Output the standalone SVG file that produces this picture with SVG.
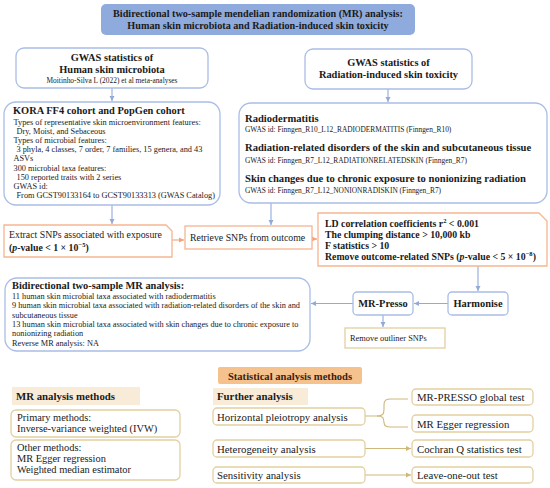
<svg xmlns="http://www.w3.org/2000/svg" width="550" height="488" viewBox="0 0 550 488">
<style>
text{font-family:"Liberation Serif","DejaVu Serif",serif;fill:#1a1a1a}
.b{font-weight:bold}
.blue{fill:#fff;stroke:#a9bde6;stroke-width:1.3}
.org{fill:#fff;stroke:#f5b690;stroke-width:1.3}
.tan{fill:#fff;stroke:#e3d0a0;stroke-width:1.3}
.cb{stroke:#93a9da;stroke-width:1.1;fill:none}
.co{stroke:#f2a27c;stroke-width:1.1;fill:none}
.ct{stroke:#cdb77c;stroke-width:1.1;fill:none}
.sg{font-size:7.4px}
.sk{font-size:8.3px}
.sm{font-size:8.3px}
.sh{font-size:10.4px}
.sl{font-size:9.8px}
.sb{font-size:10.6px}
</style>
<defs>
<marker id="ab" markerWidth="6" markerHeight="6" refX="5" refY="3" orient="auto" markerUnits="userSpaceOnUse"><path d="M0,0.5 L5,3 L0,5.5 Z" fill="#93a9da"/></marker>
<marker id="ao" markerWidth="6" markerHeight="6" refX="5" refY="3" orient="auto" markerUnits="userSpaceOnUse"><path d="M0,0.5 L5,3 L0,5.5 Z" fill="#f2a27c"/></marker>
<marker id="at" markerWidth="6" markerHeight="6" refX="5" refY="3" orient="auto" markerUnits="userSpaceOnUse"><path d="M0,0.5 L5,3 L0,5.5 Z" fill="#cdb77c"/></marker>
</defs>
<rect width="550" height="488" fill="#fff"/>

<g id="connectors">
<line class="cb" x1="112" y1="88" x2="112" y2="101" marker-end="url(#ab)"/>
<line class="cb" x1="388" y1="89" x2="388" y2="102" marker-end="url(#ab)"/>
<line class="cb" x1="112" y1="205" x2="112" y2="224" marker-end="url(#ab)"/>
<line class="cb" x1="271" y1="203" x2="271" y2="225" marker-end="url(#ab)"/>
<line class="co" x1="172" y1="240" x2="184" y2="240" marker-end="url(#ao)"/>
<line class="co" x1="312" y1="239" x2="317" y2="239" marker-end="url(#ao)"/>
<line class="cb" x1="478" y1="266" x2="478" y2="291" marker-end="url(#ab)"/>
<line class="cb" x1="448" y1="303.5" x2="414" y2="303.5" marker-end="url(#ab)"/>
<line class="cb" x1="353" y1="303.5" x2="311" y2="303.5" marker-end="url(#ab)"/>
<line class="cb" x1="383" y1="315" x2="383" y2="327" marker-end="url(#ab)"/>
<path class="ct" d="M365,416 H377 C383,416 384,414 384,409 V405 C384,400 386,399 391,399 H408"/>
<path class="ct" d="M377,416 C383,416 384,418 384,423 V422 C384,426 386,427 391,427 H408"/>
<line class="ct" x1="365" y1="448.5" x2="411" y2="448.5" marker-end="url(#at)"/>
<line class="ct" x1="365" y1="475" x2="411" y2="475" marker-end="url(#at)"/>
</g>

<g id="title">
<rect x="101" y="4" width="314" height="31" rx="5" fill="#8faadc"/>
<text class="b" font-size="10.2" x="258" y="17" text-anchor="middle">Bidirectional two-sample mendelian randomization (MR) analysis:</text>
<text class="b" font-size="10.2" x="258" y="29" text-anchor="middle">Human skin microbiota and Radiation-induced skin toxicity</text>
</g>

<g id="gwas-left">
<rect class="blue" x="16" y="48" width="192" height="40" rx="8"/>
<text class="b sh" x="112" y="61" text-anchor="middle">GWAS statistics of</text>
<text class="b sh" x="112" y="73" text-anchor="middle">Human skin microbiota</text>
<text class="sg" x="112" y="83" text-anchor="middle">Moitinho-Silva L (2022) et al meta-analyses</text>
</g>

<g id="kora">
<rect class="blue" x="4" y="102" width="216" height="103" rx="12"/>
<text class="b sh" x="13" y="114">KORA FF4 cohort and PopGen cohort</text>
<text class="sk" x="13.5" y="124.5">Types of representative skin microenvironment features:</text>
<text class="sk" x="16.5" y="133.7">Dry, Moist, and Sebaceous</text>
<text class="sk" x="13.5" y="142.9">Types of microbial features:</text>
<text class="sk" x="16.5" y="152.1">3 phyla, 4 classes, 7 order, 7 families, 15 genera, and 43</text>
<text class="sk" x="13.5" y="161.3">ASVs</text>
<text class="sk" x="13.5" y="170.5">300 microbial taxa features:</text>
<text class="sk" x="16.5" y="179.7">150 reported traits with 2 series</text>
<text class="sk" x="13.5" y="188.9">GWAS id:</text>
<text class="sk" x="16.5" y="198.1">From GCST90133164 to GCST90133313 (GWAS Catalog)</text>
</g>

<g id="gwas-right">
<rect class="blue" x="305" y="49" width="167" height="40" rx="8"/>
<text class="b sh" x="388.5" y="66" text-anchor="middle">GWAS statistics of</text>
<text class="b sh" x="388.5" y="78" text-anchor="middle">Radiation-induced skin toxicity</text>
</g>

<g id="toxicity">
<rect class="blue" x="239" y="103" width="308" height="100" rx="12"/>
<text class="b sb" x="245" y="122">Radiodermatitis</text>
<text class="sg" x="245" y="132">GWAS id: Finngen_R10_L12_RADIODERMATITIS (Finngen_R10)</text>
<text class="b sb" x="245" y="151">Radiation-related disorders of the skin and subcutaneous tissue</text>
<text class="sg" x="245" y="163">GWAS id: Finngen_R7_L12_RADIATIONRELATEDSKIN (Finngen_R7)</text>
<text class="b sb" x="245" y="182">Skin changes due to chronic exposure to nonionizing radiation</text>
<text class="sg" x="245" y="193">GWAS id: Finngen_R7_L12_NONIONRADISKIN (Finngen_R7)</text>
</g>

<g id="extract">
<path class="org" d="M4,225 H166 L172,231 V257 H4 Z"/>
<text class="sl" x="9" y="238">Extract SNPs associated with exposure</text>
<text class="sl" x="9" y="250.5"><tspan class="b">(</tspan><tspan class="b" font-style="italic">p</tspan><tspan class="b">-value &lt; 1 × 10</tspan><tspan class="b" font-size="6.5" dy="-3.8">−5</tspan><tspan class="b" dy="3.8">)</tspan></text>
</g>

<g id="retrieve">
<rect class="org" x="185" y="226" width="127" height="23"/>
<text class="sl" x="190" y="241">Retrieve SNPs from outcome</text>
</g>

<g id="ld">
<path class="org" d="M318,213 H539 L547,221 V266 H318 Z"/>
<text class="b sl" x="325" y="227">LD correlation coefficients r<tspan font-size="6.5" dy="-3.8">2</tspan><tspan dy="3.8"> &lt; 0.001</tspan></text>
<text class="b sl" x="325" y="238">The clumping distance &gt; 10,000 kb</text>
<text class="b sl" x="325" y="249">F statistics &gt; 10</text>
<text class="b sl" x="325" y="260">Remove outcome-related SNPs (<tspan font-style="italic">p</tspan>-value &lt; 5 × 10<tspan font-size="6.5" dy="-3.8">−8</tspan><tspan dy="3.8">)</tspan></text>
</g>

<g id="harmonise">
<rect class="blue" x="448" y="292" width="60" height="23" rx="4"/>
<text class="b sh" x="478" y="307" text-anchor="middle">Harmonise</text>
</g>

<g id="mrpresso">
<rect class="blue" x="353" y="292" width="60" height="23" rx="4"/>
<text class="b sh" x="383" y="307" text-anchor="middle">MR-Presso</text>
</g>

<g id="outliner">
<rect class="tan" x="345" y="328" width="100" height="20"/>
<text font-size="8.4" x="350" y="341">Remove outliner SNPs</text>
</g>

<g id="mr-analysis">
<rect class="blue" x="5" y="278" width="305" height="73" rx="12"/>
<text class="b sh" x="12" y="289">Bidirectional two-sample MR analysis:</text>
<text class="sm" x="12" y="299">11 human skin microbial taxa associated with radiodermatitis</text>
<text class="sm" x="12" y="308.3">9 human skin microbial taxa associated with radiation-related disorders of the skin and</text>
<text class="sm" x="12" y="317.7">subcutaneous tissue</text>
<text class="sm" x="12" y="327">13 human skin microbial taxa associated with skin changes due to chronic exposure to</text>
<text class="sm" x="12" y="336.3">nonionizing radiation</text>
<text class="sm" x="12" y="345.6">Reverse MR analysis: NA</text>
</g>

<g id="stat-header">
<rect x="218" y="367" width="144" height="17" rx="2" fill="#f5c28d"/>
<text class="b" font-size="10.6" x="290" y="379.5" text-anchor="middle" style="fill:#3a1e12">Statistical analysis methods</text>
</g>

<g id="mr-methods-header">
<rect x="12" y="387" width="128" height="18" fill="#f8ecd9"/>
<text class="b" font-size="10.8" x="16" y="400">MR analysis methods</text>
</g>

<g id="primary">
<rect class="tan" x="11" y="410" width="169" height="27" rx="5"/>
<text font-size="10.4" x="17" y="420.5">Primary methods:</text>
<text font-size="10.4" x="17" y="432">Inverse-variance weighted (IVW)</text>
</g>

<g id="other">
<rect class="tan" x="11" y="440" width="169" height="40" rx="5"/>
<text font-size="10.4" x="17" y="451">Other methods:</text>
<text font-size="10.4" x="17" y="462">MR Egger regression</text>
<text font-size="10.4" x="17" y="473">Weighted median estimator</text>
</g>

<g id="further-header">
<rect x="213" y="388" width="95" height="17" fill="#f8ecd9"/>
<text class="b" font-size="10.8" x="217" y="400">Further analysis</text>
</g>

<g id="pleiotropy">
<rect class="tan" x="213" y="408" width="152" height="17" rx="4"/>
<text font-size="10.8" x="217" y="420.5">Horizontal pleiotropy analysis</text>
</g>

<g id="heterogeneity">
<rect class="tan" x="213" y="440" width="152" height="17" rx="4"/>
<text font-size="10.8" x="217" y="452.5">Heterogeneity analysis</text>
</g>

<g id="sensitivity">
<rect class="tan" x="213" y="467" width="152" height="16" rx="4"/>
<text font-size="10.8" x="217" y="479">Sensitivity analysis</text>
</g>

<g id="mrpresso-global">
<rect class="tan" x="412" y="389" width="121" height="16" rx="4"/>
<text font-size="10.8" x="417" y="401">MR-PRESSO global test</text>
</g>

<g id="egger">
<rect class="tan" x="412" y="415" width="121" height="17" rx="4"/>
<text font-size="10.8" x="417" y="427.5">MR Egger regression</text>
</g>

<g id="cochran">
<rect class="tan" x="412" y="440" width="121" height="17" rx="4"/>
<text font-size="10.8" x="417" y="452.5">Cochran Q statistics test</text>
</g>

<g id="loo">
<rect class="tan" x="412" y="467" width="121" height="16" rx="4"/>
<text font-size="10.8" x="417" y="479">Leave-one-out test</text>
</g>
</svg>
